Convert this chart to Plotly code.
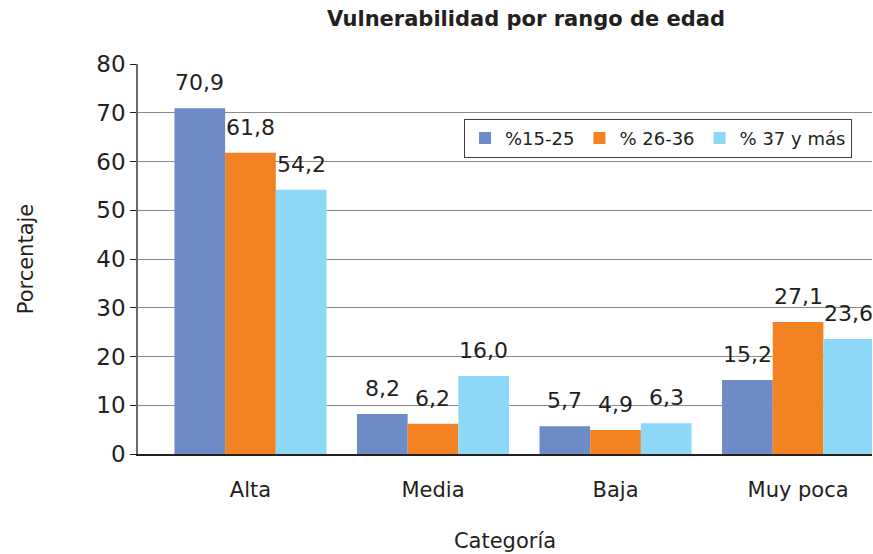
import plotly.graph_objects as go

categories = ["Alta", "Media", "Baja", "Muy poca"]
series_names = ["%15-25", "% 26-36", "% 37 y más"]
v_15_25 = [70.9, 8.2, 5.7, 15.2]
v_26_36 = [61.8, 6.2, 4.9, 27.1]
v_37_mas = [54.2, 16.0, 6.3, 23.6]
y_ticks = [0, 10, 20, 30, 40, 50, 60, 70, 80]

series_values = [v_15_25, v_26_36, v_37_mas]
colors = ["#6C8BC7", "#F28222", "#8DD8F6"]
FONT = "DejaVu Sans"
TXT = "#231f20"
BARGAP = 0.167

fig = go.Figure()
for name, vals, col in zip(series_names, series_values, colors):
    fig.add_trace(go.Bar(name=name, x=categories, y=vals, marker=dict(color=col, line=dict(width=0))))

# data labels
nser = len(series_values)
bw = (1 - BARGAP) / nser
for k, vals in enumerate(series_values):
    for i, v in enumerate(vals):
        fig.add_annotation(
            x=i + (k - (nser - 1) / 2) * bw, y=v, xref="x", yref="y",
            text=f"{v:.1f}".replace(".", ","), showarrow=False,
            yanchor="bottom", xanchor="center", yshift=11,
            font=dict(family=FONT, size=22, color=TXT),
        )

fig.update_layout(
    width=873, height=554,
    margin=dict(l=138, r=1, t=64, b=100),
    paper_bgcolor="white", plot_bgcolor="white",
    barmode="group", bargap=BARGAP, bargroupgap=0,
    separators=",.",
    font=dict(family=FONT, size=22, color=TXT),
    title=dict(text="<b>Vulnerabilidad por rango de edad</b>", x=526 / 873, xanchor="center",
               y=1 - 19 / 554, yanchor="middle", font=dict(family=FONT, size=21, color=TXT)),
    legend=dict(orientation="h", x=(464 - 138) / 734, y=(454.3 - 119) / 390, xanchor="left", yanchor="top",
                bordercolor="#404040", borderwidth=1, bgcolor="white",
                font=dict(family=FONT, size=18, color=TXT), traceorder="normal"),
    showlegend=True,
)
fig.update_xaxes(
    type="category", range=[-0.616, 3.405], showgrid=False,
    showline=True, linecolor="#231f20", linewidth=1.5,
    ticks="", ticklabelstandoff=16,
    tickfont=dict(family=FONT, size=21, color=TXT),
    title=dict(text="Categoría", standoff=32, font=dict(family=FONT, size=21, color=TXT)),
)
fig.update_yaxes(
    range=[0, 80], tickvals=y_ticks, showgrid=True, gridcolor="#8a8a8a", gridwidth=1,
    zeroline=False, showline=True, linecolor="#6a6a6a", linewidth=1.5,
    ticks="outside", ticklen=6, tickcolor="#231f20",
    tickfont=dict(family=FONT, size=23, color=TXT),
    title=dict(text="Porcentaje", standoff=57, font=dict(family=FONT, size=21, color=TXT)),
)
fig.write_html("out.html", config={"displayModeBar": False},
               post_script="document.body.style.margin='0';document.body.style.overflow='hidden';")
